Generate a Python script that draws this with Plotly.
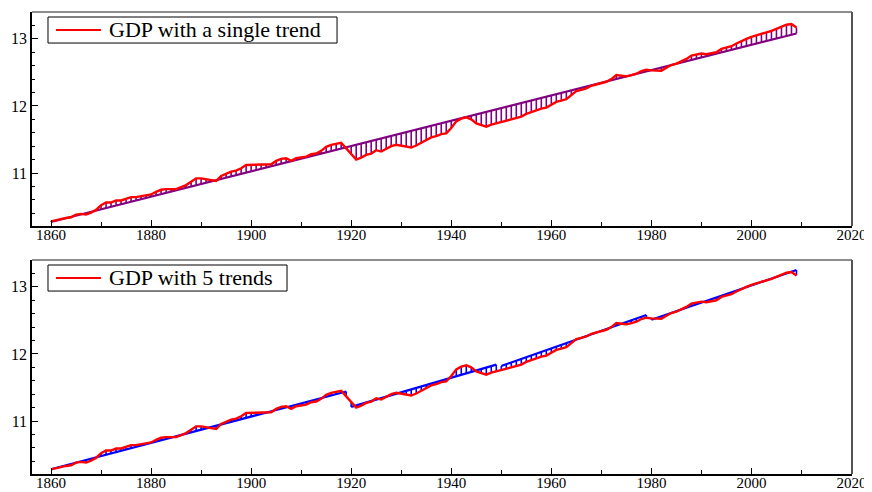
import numpy as np
import plotly.graph_objects as go

# log GDP, one value per year 1860-2009
years = list(range(1860, 2010))
gdp = [
    10.28, 10.30, 10.31, 10.33, 10.34, 10.38, 10.39, 10.38, 10.41, 10.45,   # 1860s
    10.52, 10.56, 10.56, 10.59, 10.59, 10.62, 10.64, 10.64, 10.65, 10.66,   # 1870s
    10.68, 10.72, 10.75, 10.76, 10.76, 10.76, 10.79, 10.82, 10.87, 10.92,   # 1880s
    10.92, 10.91, 10.90, 10.88, 10.955, 10.99, 11.02, 11.035, 11.07, 11.12, # 1890s
    11.12, 11.125, 11.13, 11.12, 11.13, 11.18, 11.21, 11.22, 11.18, 11.22,  # 1900s
    11.23, 11.245, 11.28, 11.29, 11.33, 11.39, 11.42, 11.43, 11.45, 11.367, # 1910s
    11.283, 11.20, 11.23, 11.27, 11.29, 11.34, 11.32, 11.36, 11.40, 11.42,  # 1920s
    11.41, 11.39, 11.38, 11.41, 11.45, 11.49, 11.53, 11.55, 11.58, 11.59,   # 1930s
    11.67, 11.77, 11.81, 11.83, 11.80, 11.74, 11.71, 11.69, 11.72, 11.74,   # 1940s
    11.77, 11.79, 11.81, 11.83, 11.84, 11.88, 11.91, 11.94, 11.96, 11.975,  # 1950s
    12.02, 12.06, 12.08, 12.10, 12.16, 12.22, 12.24, 12.26, 12.30, 12.32,   # 1960s
    12.34, 12.36, 12.40, 12.46, 12.45, 12.44, 12.46, 12.48, 12.52, 12.54,   # 1970s
    12.53, 12.53, 12.525, 12.57, 12.61, 12.63, 12.66, 12.70, 12.75, 12.77,  # 1980s
    12.78, 12.77, 12.78, 12.80, 12.85, 12.87, 12.89, 12.93, 12.97, 13.00,   # 1990s
    13.03, 13.05, 13.07, 13.09, 13.12, 13.15, 13.175, 13.21, 13.22, 13.17,  # 2000s
]

# single linear trend (end points)
single_start, single_end = 1860, 2009
single_start_val, single_end_val = 10.27, 13.08

# piecewise trends (end points of each segment)
seg_starts = [1860, 1920, 1950, 1980]
seg_ends = [1919, 1949, 1979, 2009]
seg_start_vals = [10.28, 11.21, 11.82, 12.51]
seg_end_vals = [11.44, 11.84, 12.58, 13.25]

FONT = "Liberation Serif"
PURPLE = "#800080"
BLUE = "#0000ff"
RED = "#ff0000"

gdp_by_year = dict(zip(years, gdp))


def hatch_and_trend(starts, ends, v0s, v1s):
    hx, hy, tx, ty = [], [], [], []
    for s, e, a, b in zip(starts, ends, v0s, v1s):
        for yr in range(s, e + 1):
            t = float(np.interp(yr, [s, e], [a, b]))
            hx += [yr, yr, None]
            hy += [t, gdp_by_year[yr], None]
        tx += [s, e, None]
        ty += [a, b, None]
    return hx, hy, tx, ty


fig = go.Figure()

panels = [
    ("x", "y", "GDP with a single trend", 0.372, PURPLE,
     hatch_and_trend([single_start], [single_end], [single_start_val], [single_end_val])),
    ("x2", "y2", "GDP with 5 trends", 0.311, BLUE,
     hatch_and_trend(seg_starts, seg_ends, seg_start_vals, seg_end_vals)),
]

for xa, ya, name, box_right, col, (hx, hy, tx, ty) in panels:
    fig.add_trace(go.Scatter(x=hx, y=hy, mode="lines", line=dict(color=col, width=1.6),
                             xaxis=xa, yaxis=ya, showlegend=False, hoverinfo="skip"))
    fig.add_trace(go.Scatter(x=tx, y=ty, mode="lines", line=dict(color=col, width=2.2),
                             xaxis=xa, yaxis=ya, showlegend=False))
    fig.add_trace(go.Scatter(x=years, y=gdp, mode="lines", name=name,
                             line=dict(color=RED, width=2.4), xaxis=xa, yaxis=ya,
                             showlegend=False))

    # legend box drawn by hand so its size matches
    xr, yr = xa + " domain", ya + " domain"
    fig.add_shape(type="rect", xref=xr, yref=yr, x0=0.0195, x1=box_right,
                  y0=0.855, y1=0.9766, fillcolor="white",
                  line=dict(color="black", width=1))
    fig.add_shape(type="line", xref=xr, yref=yr, x0=0.0293, x1=0.0841,
                  y0=0.916, y1=0.916, line=dict(color=RED, width=2))
    fig.add_annotation(xref=xr, yref=yr, x=0.0915, y=0.916, text=name,
                       showarrow=False, xanchor="left", yanchor="middle",
                       font=dict(family=FONT, size=22, color="black"))

    # grey top and right frame lines
    fig.add_shape(type="line", xref=xr, yref=yr, x0=0, x1=1, y0=1, y1=1,
                  line=dict(color="#666666", width=1.5))
    fig.add_shape(type="line", xref=xr, yref=yr, x0=1, x1=1, y0=0, y1=1,
                  line=dict(color="#555555", width=2))

xcommon = dict(range=[1856.2, 2020.1], tickvals=list(range(1860, 2021, 20)),
               ticks="inside", ticklen=6, tickwidth=1.2, tickcolor="black",
               minor=dict(dtick=10, tick0=1860, ticks="inside", ticklen=4, tickcolor="black"),
               showline=True, linecolor="black", linewidth=2, showgrid=False,
               zeroline=False, automargin=False, ticklabelstandoff=-6,
               tickfont=dict(family=FONT, size=15, color="black"))
ycommon = dict(range=[10.21, 13.40], tickvals=[11, 12, 13],
               ticks="inside", ticklen=6, tickwidth=1.2, tickcolor="black",
               minor=dict(dtick=0.2, tick0=10, ticks="inside", ticklen=3, tickcolor="black"),
               showline=True, linecolor="black", linewidth=1.5, showgrid=False,
               zeroline=False, automargin=False,
               tickfont=dict(family=FONT, size=16, color="black"))

# the page adds an 8px body margin, so the figure is 8px smaller each way
fig.update_layout(
    width=864, height=484,
    margin=dict(l=24, r=20, t=4, b=18),
    paper_bgcolor="white", plot_bgcolor="white",
    font=dict(family=FONT, color="black"),
    showlegend=False,
    xaxis=dict(xcommon, anchor="y"),
    yaxis=dict(ycommon, domain=[0.5368, 1.0], anchor="x"),
    xaxis2=dict(xcommon, anchor="y2"),
    yaxis2=dict(ycommon, domain=[0.0, 0.4632], anchor="x2"),
)

fig.write_html("out.html")
